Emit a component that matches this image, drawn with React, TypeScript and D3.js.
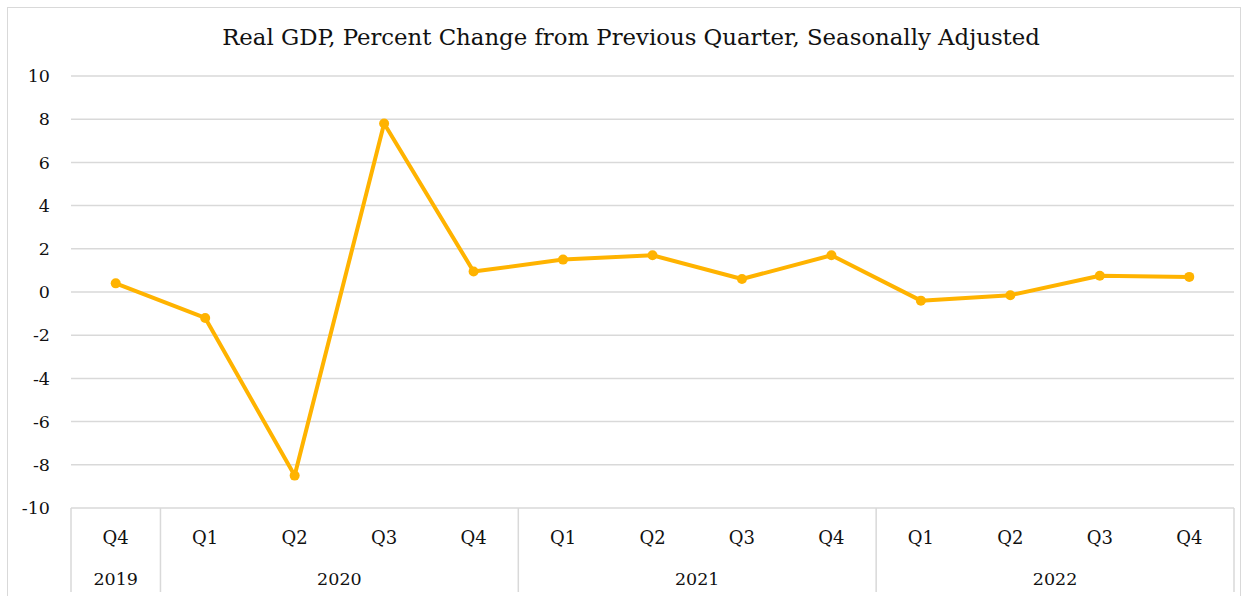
import React from "react";
import * as d3 from "d3";

const quarters = ["Q4", "Q1", "Q2", "Q3", "Q4", "Q1", "Q2", "Q3", "Q4", "Q1", "Q2", "Q3", "Q4"];
const years = ["2019", "2020", "2020", "2020", "2020", "2021", "2021", "2021", "2021", "2022", "2022", "2022", "2022"];
const gdpChange = [0.4, -1.2, -8.5, 7.8, 0.95, 1.5, 1.7, 0.6, 1.7, -0.4, -0.15, 0.75, 0.7];
const yTicks = [-10, -8, -6, -4, -2, 0, 2, 4, 6, 8, 10];
const title = "Real GDP, Percent Change from Previous Quarter, Seasonally Adjusted";

const W = 1249;
const H = 596;
const left = 71;
const right = 1234;
const top = 76;
const bottom = 508;
const FONT = "'DejaVu Serif', serif";
const LINE = "#FFB300";
const TEXT = "#111";

export default function App() {
  const idx = quarters.map((_, i) => i);
  const x = d3.scaleBand<number>().domain(idx).range([left, right]).padding(0);
  const y = d3.scaleLinear().domain([-10, 10]).range([bottom, top]);
  const cx = (i: number) => (x(i) as number) + x.bandwidth() / 2;
  const line = d3
    .line<number>()
    .x((_, i) => cx(i))
    .y((d) => y(d));

  const groups: { year: string; start: number; end: number }[] = [];
  years.forEach((yr, i) => {
    const g = groups[groups.length - 1];
    if (g && g.year === yr) g.end = i;
    else groups.push({ year: yr, start: i, end: i });
  });

  return (
    <svg
      width={W}
      height={H}
      style={{ position: "absolute", left: 0, top: 0, background: "#fff" }}
    >
      <rect x={7.5} y={7.5} width={1233} height={600} fill="#fff" stroke="#d9d9d9" strokeWidth={1} />
      <text x={631} y={45} textAnchor="middle" fontFamily={FONT} fontSize={22.8} fill={TEXT}>
        {title}
      </text>
      {yTicks.map((t) => (
        <g key={t}>
          {t !== -10 && (
            <line x1={left} x2={right} y1={y(t)} y2={y(t)} stroke="#d9d9d9" strokeWidth={1.5} />
          )}
          <text
            x={50}
            y={y(t)}
            dy="0.35em"
            textAnchor="end"
            fontFamily={FONT}
            fontSize={17.5}
            fill={TEXT}
          >
            {t < 0 ? "-" + Math.abs(t) : t}
          </text>
        </g>
      ))}
      <line x1={left} x2={right} y1={bottom} y2={bottom} stroke="#d9d9d9" strokeWidth={1.5} />
      {groups.map((g, k) => (
        <g key={k}>
          <line
            x1={x(g.start) as number}
            x2={x(g.start) as number}
            y1={bottom}
            y2={592}
            stroke="#d9d9d9"
            strokeWidth={1.5}
          />
          <text
            x={((x(g.start) as number) + (x(g.end) as number) + x.bandwidth()) / 2}
            y={585}
            textAnchor="middle"
            fontFamily={FONT}
            fontSize={17.5}
            fill={TEXT}
          >
            {g.year}
          </text>
        </g>
      ))}
      <line x1={right} x2={right} y1={bottom} y2={592} stroke="#d9d9d9" strokeWidth={1.5} />
      {quarters.map((q, i) => (
        <text
          key={i}
          x={cx(i)}
          y={544}
          textAnchor="middle"
          fontFamily={FONT}
          fontSize={18}
          fill={TEXT}
        >
          {q}
        </text>
      ))}
      <path d={line(gdpChange) || ""} fill="none" stroke={LINE} strokeWidth={4} strokeLinejoin="round" />
      {gdpChange.map((v, i) => (
        <circle key={i} cx={cx(i)} cy={y(v)} r={5} fill={LINE} />
      ))}
    </svg>
  );
}
